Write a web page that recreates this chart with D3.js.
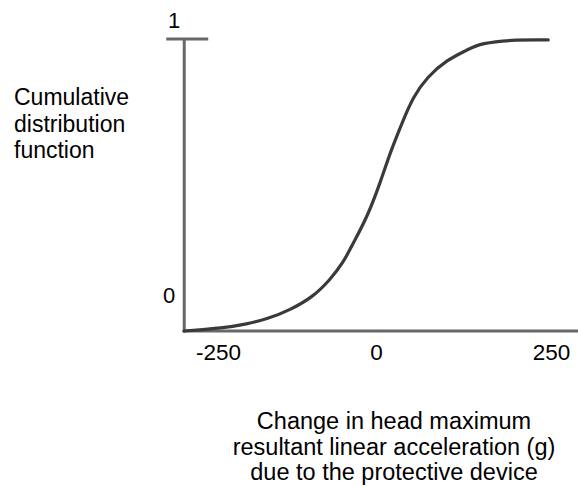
<!DOCTYPE html>
<html>
<head>
<meta charset="utf-8">
<script src="https://cdn.jsdelivr.net/npm/d3@7"></script>
<style>
  html, body { margin: 0; padding: 0; background: #fff; }
  svg { display: block; font-family: "Liberation Sans", Arial, sans-serif; }
</style>
</head>
<body>
<div id="chart"></div>
<script>
// change in acceleration (g) and its cumulative probability
const accelChange = [-304, -242, -204, -172, -136, -100, -73, -52, -36, -14, 6, 20, 39, 53, 73, 101, 130, 149, 201, 246];
const cdfValues   = [0.0, 0.01, 0.024, 0.041, 0.072, 0.116, 0.175, 0.233, 0.301, 0.39, 0.507, 0.61, 0.723, 0.801, 0.87, 0.928, 0.962, 0.986, 0.998, 0.997];
const xTicks = [-250, 0, 250];
const yTicks = [0, 1];
const yLabelLines = ['Cumulative', 'distribution', 'function'];
const xLabelLines = ['Change in head maximum', 'resultant linear acceleration (g)', 'due to the protective device'];

const width = 578, height = 486;
const axisColor = '#686868';
const lineColor = '#3a3a3a';

const svg = d3.select('#chart').append('svg')
    .attr('width', width)
    .attr('height', height);

// hand drawn axis, spacing is not even on both sides of zero
const x = d3.scaleLinear().domain([-250, 0, 250]).range([218, 376, 551]);
const y = d3.scaleLinear().domain([0, 1]).range([331, 39]);

const xMin = -305, xMax = 290;

// x axis line
svg.append('line')
    .attr('x1', x(xMin)).attr('x2', x(xMax))
    .attr('y1', y(0)).attr('y2', y(0))
    .attr('stroke', axisColor).attr('stroke-width', 3);

// y axis line + top cap
svg.append('line')
    .attr('x1', x(xMin) + 1).attr('x2', x(xMin) + 1)
    .attr('y1', y(0) + 1.5).attr('y2', y(1))
    .attr('stroke', axisColor).attr('stroke-width', 3);

svg.append('line')
    .attr('x1', x(xMin) - 17).attr('x2', x(xMin) + 25)
    .attr('y1', y(1)).attr('y2', y(1))
    .attr('stroke', axisColor).attr('stroke-width', 3);

// x tick labels
svg.append('g')
    .attr('transform', `translate(0,${y(0) + 29})`)
    .call(d3.axisBottom(x).tickValues(xTicks).tickSize(0).tickPadding(0).tickFormat(d => String(d)))
    .call(g => g.select('.domain').remove())
    .selectAll('text')
    .attr('dy', 0)
    .attr('font-size', 22.5)
    .attr('font-family', '"Liberation Sans", Arial, sans-serif')
    .attr('fill', '#000');

// y tick labels
svg.append('g')
    .selectAll('text')
    .data(yTicks)
    .join('text')
    .attr('x', d => d === 1 ? 174 : 169)
    .attr('y', d => d === 1 ? y(d) - 11 : y(d) - 28)
    .attr('text-anchor', 'middle')
    .attr('font-size', 22)
    .text(d => d);

// curve
const line = d3.line()
    .x(d => x(d[0]))
    .y(d => y(d[1]))
    .curve(d3.curveBasis);

svg.append('path')
    .datum(d3.zip(accelChange, cdfValues))
    .attr('d', line)
    .attr('fill', 'none')
    .attr('stroke', lineColor)
    .attr('stroke-width', 3.2)
    .attr('stroke-linejoin', 'round')
    .attr('stroke-linecap', 'round');

// axis titles
svg.append('g')
    .selectAll('text')
    .data(yLabelLines)
    .join('text')
    .attr('x', 14)
    .attr('y', (d, i) => 105 + i * 26.5)
    .attr('font-size', 23)
    .text(d => d);

svg.append('g')
    .selectAll('text')
    .data(xLabelLines)
    .join('text')
    .attr('x', 394)
    .attr('y', (d, i) => 429 + i * 25.5)
    .attr('text-anchor', 'middle')
    .attr('font-size', 23.5)
    .text(d => d);
</script>
</body>
</html>
